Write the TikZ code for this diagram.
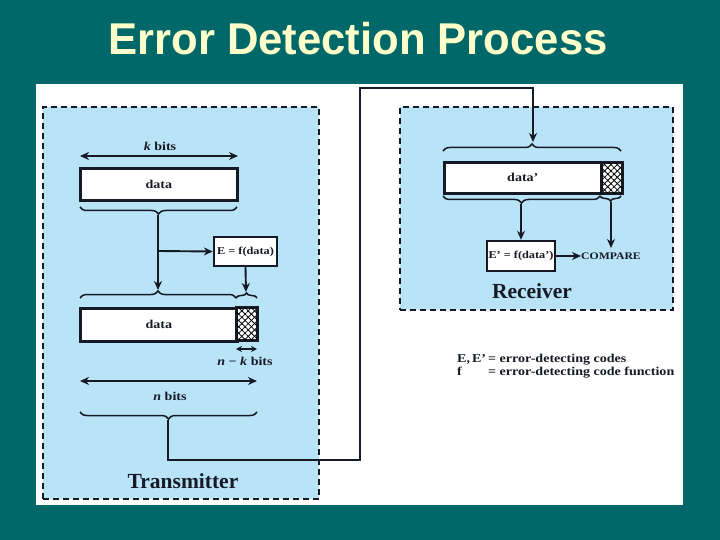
\documentclass[tikz,border=0pt]{standalone}
\usepackage{fontspec}
\setmainfont{Liberation Serif}
\newfontfamily\titlefont[FakeStretch=0.98]{Liberation Sans}
\newfontfamily\diagfont[FakeStretch=1.17]{Liberation Serif}
\usetikzlibrary{arrows.meta,decorations.pathreplacing,patterns.meta}
\definecolor{teal0}{RGB}{0,104,104}
\definecolor{panelblue}{RGB}{185,228,248}
\definecolor{titleyellow}{RGB}{255,255,204}
\definecolor{ink}{RGB}{22,26,36}
\begin{document}
\begin{tikzpicture}[x=1pt,y=-1pt,
  conn/.style={line width=1.9pt,draw=ink},
  arr/.style={conn,-{Stealth[length=9pt,width=8pt]}},
  dblarr/.style={conn,{Stealth[length=9pt,width=8pt]}-{Stealth[length=9pt,width=8pt]}},
  smalldbl/.style={conn,{Stealth[length=6pt,width=6pt]}-{Stealth[length=6pt,width=6pt]}},
  databox/.style={draw=ink,line width=2.6pt,fill=white,inner sep=0pt,anchor=north west,
    font=\diagfont\bfseries\fontsize{12}{14}\selectfont,text=ink},
  hatchbox/.style={draw=ink,line width=2.6pt,inner sep=0pt,anchor=north west,
    preaction={fill=white},pattern={Lines[angle=45,distance=4.5pt,line width=0.8pt]},
    postaction={pattern={Lines[angle=-45,distance=4.5pt,line width=0.8pt]}}},
  fbox/.style={draw=ink,line width=2.4pt,fill=white,inner sep=0pt,
    font=\diagfont\bfseries\fontsize{10.5}{12}\selectfont,text=ink},
  lbl/.style={font=\diagfont\bfseries\fontsize{12}{14}\selectfont,text=ink,inner sep=0pt},
  biglbl/.style={font=\bfseries\fontsize{21.5}{24}\selectfont,text=ink,inner sep=0pt},
  brc/.style={draw=ink,line width=1.5pt,decorate,decoration={brace,amplitude=7pt}},
  brcm/.style={draw=ink,line width=1.5pt,decorate,decoration={brace,amplitude=7pt,mirror}},
  sbrc/.style={draw=ink,line width=1.5pt,decorate,decoration={brace,amplitude=5pt}},
  sbrcm/.style={draw=ink,line width=1.5pt,decorate,decoration={brace,amplitude=5pt,mirror}},
  zone/.style={draw=ink,fill=panelblue,line width=1.6pt,dash pattern=on 6pt off 4pt,
    inner sep=0pt,anchor=north west},
]
\useasboundingbox (0,0) rectangle (720,540);
\fill[teal0] (0,0) rectangle (720,540);
\fill[white] (36,84) rectangle (683,505);
\node[font=\titlefont\bfseries\fontsize{44.5}{48}\selectfont,text=titleyellow] (title) at (358,39) {Error Detection Process};

% zones
\node[zone,minimum width=276pt,minimum height=392pt] (tx) at (42,106) {};
\node[zone,minimum width=273pt,minimum height=203pt] (rx) at (399,106) {};

% ---- Transmitter ----
\node[lbl] (kbits) at (160,146) {\itshape k\upshape\ bits};
\coordinate (k1) at (80,156);
\coordinate (k2) at (238,156);
\draw[dblarr] (k1) -- (k2);
\node[databox,minimum width=157pt,minimum height=32pt] (d1) at (79,167) {data};

\draw[brcm] (80,207) -- (237,207);
\coordinate (b1) at (158,215);
\coordinate (bend1) at (158,251);
\node[fbox,minimum width=63pt,minimum height=29pt] (ef) at (245.5,251.5) {E = f(data)};
\draw[arr] (bend1) -- (ef.west);

\draw[brc] (80,298) -- (236,298);
\draw[sbrc] (236,298) -- (257,298);
\coordinate (b2) at (158,290);
\coordinate (b2s) at (246,292);
\draw[arr] (b1) -- (b2);
\draw[arr] (ef.south) -- (b2s);

\node[databox,minimum width=157pt,minimum height=33pt] (d2) at (79,307) {data};
\node[hatchbox,minimum width=21pt,minimum height=33pt] (h2) at (236,307) {};

\coordinate (nk1) at (236,349);
\coordinate (nk2) at (257,349);
\draw[smalldbl] (nk1) -- (nk2);
\node[lbl] (nkbits) at (245,361) {\itshape n\upshape\ − \itshape k\upshape\ bits};

\coordinate (n1) at (80,381);
\coordinate (n2) at (257,381);
\draw[dblarr] (n1) -- (n2);
\node[lbl] (nbits) at (170,396) {\itshape n\upshape\ bits};

\draw[brcm] (80,412) -- (257,412);
\coordinate (b3) at (168,420);
\node[biglbl] (txl) at (183,481) {Transmitter};

% ---- link ----
\coordinate (c1) at (360,460);
\coordinate (c2) at (360,88);
\coordinate (rt) at (533,142);
\draw[conn,line width=1.6pt,-{Stealth[length=9pt,width=8pt]}] (b3) |- (c1) -- (c2) -| (rt);

% ---- Receiver ----
\draw[brc] (443,151) -- (621,151);
\node[databox,minimum width=157pt,minimum height=31pt] (r1) at (443,161) {data’};
\node[hatchbox,minimum width=21pt,minimum height=31pt] (rh) at (600,161) {};

\draw[brcm] (443,196) -- (600,196);
\draw[sbrcm] (600,196) -- (621,196);
\coordinate (b4) at (521,204);
\coordinate (b4s) at (611,202);
\node[fbox,minimum width=68pt,minimum height=30pt] (ef2) at (521,256) {E’ = f(data’)};
\draw[arr] (b4) -- (ef2.north);
\coordinate (cmpin) at (611,248);
\draw[arr] (b4s) -- (cmpin);
\node[lbl,anchor=west,font=\diagfont\bfseries\fontsize{10}{12}\selectfont] (cmp) at (581,256) {COMPARE};
\draw[arr] (ef2.east) -- (cmp.west);
\node[biglbl] (rxl) at (532,291) {Receiver};

% legend
\node[anchor=north west,inner sep=0pt,font=\diagfont\bfseries\fontsize{12}{13}\selectfont,text=ink] (leg) at (457,353)
 {\begin{tabular}{@{}l@{\hspace{2pt}}l@{}}E,\,E’ & = error-detecting codes\\ f & = error-detecting code function\end{tabular}};
\end{tikzpicture}
\end{document}
